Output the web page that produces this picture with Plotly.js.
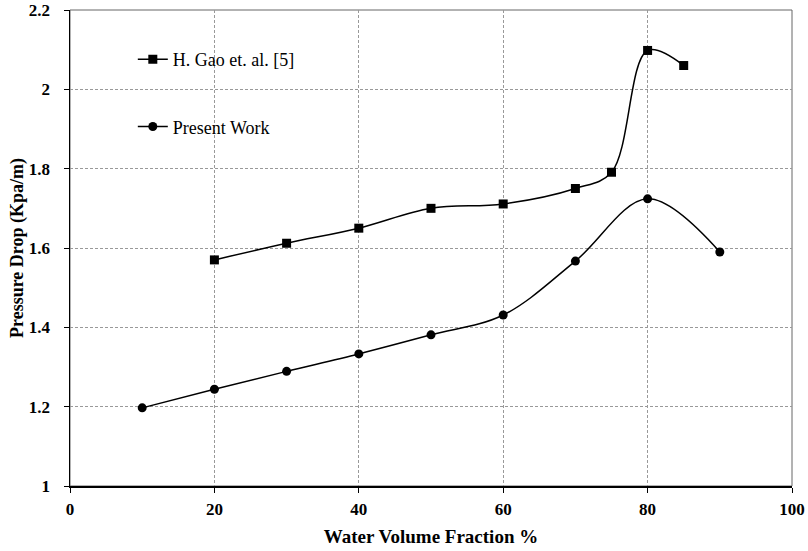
<!DOCTYPE html>
<html>
<head>
<meta charset="utf-8">
<script src="https://cdn.plot.ly/plotly-3.0.1.min.js"></script>
<style>html,body{margin:0;padding:0;background:#fff;}#chart{width:808px;height:551px;}</style>
</head>
<body>
<div id="chart"></div>
<script>
const gaoX = [20, 30, 40, 50, 60, 70, 75, 80, 85];
const gaoY = [1.570, 1.612, 1.650, 1.700, 1.711, 1.750, 1.791, 2.098, 2.060];
const presentX = [10, 20, 30, 40, 50, 60, 70, 80, 90];
const presentY = [1.197, 1.244, 1.289, 1.333, 1.381, 1.431, 1.567, 1.724, 1.590];
const xTicks = [0, 20, 40, 60, 80, 100];
const yTicks = [1, 1.2, 1.4, 1.6, 1.8, 2, 2.2];
const yTickText = ['1', '1.2', '1.4', '1.6', '1.8', '2', '2.2'];

const font = 'Liberation Serif';

const traces = [
  {x: gaoX, y: gaoY, name: 'H. Gao et. al. [5]', legendgroup: 'a', mode: 'lines+markers',
   line: {color: '#000', width: 1.5, shape: 'spline', smoothing: 1},
   marker: {symbol: 'square', size: 9, color: '#000'}},
  {x: presentX, y: presentY, name: 'Present Work', legendgroup: 'b', mode: 'lines+markers',
   line: {color: '#000', width: 1.5, shape: 'spline', smoothing: 1},
   marker: {symbol: 'circle', size: 9, color: '#000'}}
];

const layout = {
  width: 808, height: 551,
  margin: {l: 70, r: 16, t: 10, b: 65},
  paper_bgcolor: '#fff', plot_bgcolor: '#fff',
  font: {family: font, color: '#000', size: 17},
  showlegend: true,
  legend: {x: 0.087, y: 0.935, xanchor: 'left', yanchor: 'top', bgcolor: 'rgba(0,0,0,0)',
           font: {family: font, size: 18, color: '#000'}, tracegroupgap: 41, traceorder: 'grouped'},
  xaxis: {range: [0, 100], tickvals: xTicks, ticktext: xTicks.map(String),
          showgrid: true, gridcolor: '#999', griddash: '3px,2px', gridwidth: 1,
          showline: true, linecolor: '#000', linewidth: 1.5, ticks: 'outside', ticklen: 5, tickcolor: '#000',
          ticklabelstandoff: 2,
          tickfont: {family: font, size: 17, weight: 'bold'}, zeroline: false,
          title: {text: 'Water Volume Fraction %', font: {family: font, size: 19, weight: 'bold'}, standoff: 12}},
  yaxis: {range: [1, 2.2], tickvals: yTicks, ticktext: yTickText,
          showgrid: true, gridcolor: '#999', griddash: '3px,2px', gridwidth: 1,
          showline: true, linecolor: '#000', linewidth: 1.5, ticks: 'outside', ticklen: 5, tickcolor: '#000',
          ticklabelstandoff: 10,
          tickfont: {family: font, size: 17, weight: 'bold'}, zeroline: false,
          title: {text: 'Pressure Drop (Kpa/m)', font: {family: font, size: 18, weight: 'bold'}, standoff: 0}},
  shapes: [{type: 'rect', xref: 'paper', yref: 'paper', x0: 0, x1: 1, y0: 0, y1: 1,
            line: {color: '#666', width: 1}, layer: 'below'}]
};

Plotly.newPlot('chart', traces, layout, {displayModeBar: false, staticPlot: true});
</script>
</body>
</html>
